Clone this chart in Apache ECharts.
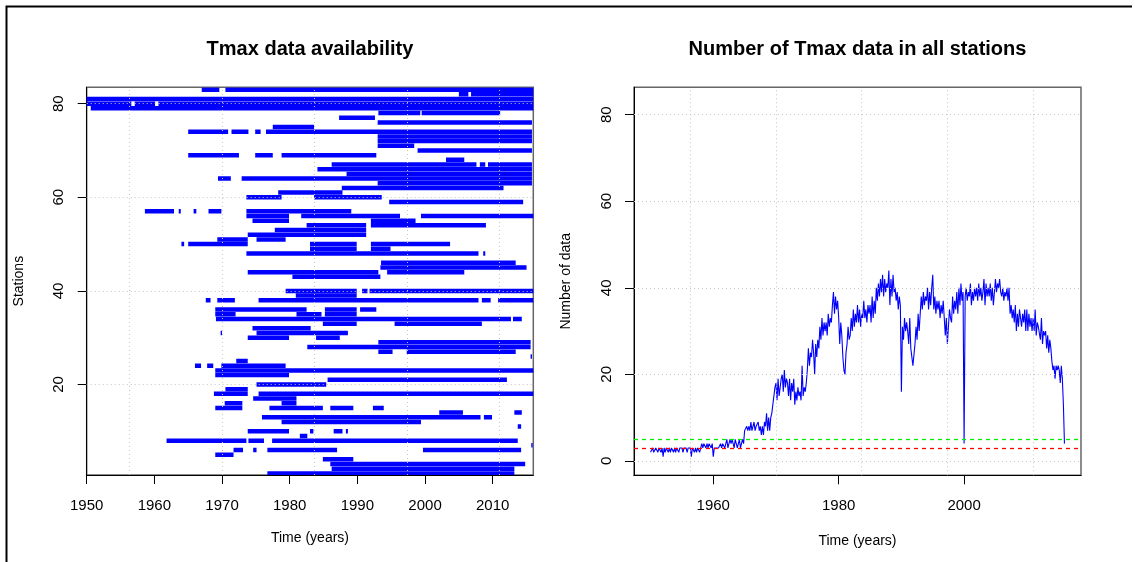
<!DOCTYPE html>
<html>
<head>
<meta charset="utf-8">
<title>Tmax data</title>
<script src="https://cdn.jsdelivr.net/npm/echarts/dist/echarts.min.js"></script>
<style>
    body{margin:0;background:#fff;}
    #main{width:1135px;height:562px;}
</style>
</head>
<body>
<div id="main"></div>
<script>
// left panel: [station, start year, end year] of each block of data
var availability = [
    [83, 1967.0, 1969.6], [83, 1970.5, 2016],
    [82, 2005.0, 2006.4], [82, 2006.8, 2016],
    [81, 1950, 2016],
    [80, 1950, 1956.6], [80, 1957.1, 1960.1], [80, 1960.6, 2016],
    [79, 1950.6, 2016],
    [78, 1993.1, 1999.3], [78, 1999.5, 2011.1],
    [77, 1987.3, 1992.6],
    [76, 1993.0, 2015.8],
    [75, 1977.5, 1983.6],
    [74, 1965.0, 1970.9], [74, 1971.4, 1973.9], [74, 1974.9, 1975.7], [74, 1976.5, 2015.8],
    [73, 1993.0, 2015.8],
    [72, 1993.0, 2015.8],
    [71, 1993.0, 1998.4],
    [70, 1998.9, 2015.8],
    [69, 1965.0, 1972.5], [69, 1974.9, 1977.5], [69, 1978.8, 1992.8],
    [68, 2003.1, 2005.8],
    [67, 1986.2, 2007.6], [67, 2008.1, 2008.9], [67, 2009.3, 2015.8],
    [66, 1984.1, 2015.8],
    [65, 1988.4, 2015.8],
    [64, 1969.4, 1971.3], [64, 1972.9, 2015.8],
    [63, 1993.0, 2015.8],
    [62, 1987.7, 2011.6],
    [61, 1978.3, 1987.8],
    [60, 1973.6, 1978.8], [60, 1983.6, 1993.6],
    [59, 1994.7, 2014.5],
    [57, 1958.6, 1962.9], [57, 1963.6, 1963.9], [57, 1965.8, 1966.2], [57, 1968.0, 1969.9], [57, 1973.6, 1989.1],
    [56, 1973.6, 1979.9], [56, 1981.7, 1996.3], [56, 1999.4, 2016],
    [55, 1974.5, 1979.9], [55, 1992.0, 1998.6],
    [54, 1982.5, 1991.3], [54, 1992.0, 2009.0],
    [53, 1977.8, 1991.3],
    [52, 1973.8, 1991.3],
    [51, 1969.3, 1973.8], [51, 1975.1, 1979.4],
    [50, 1964.0, 1964.4], [50, 1965.0, 1973.8], [50, 1983.0, 1989.9], [50, 1992.0, 2003.7],
    [49, 1983.0, 1989.9], [49, 1992.0, 1994.9],
    [48, 1973.6, 2007.9], [48, 2008.6, 2008.9],
    [46, 1993.5, 2013.4],
    [45, 1993.4, 2015.0],
    [44, 1973.8, 1993.1], [44, 1994.4, 2005.8],
    [43, 1980.4, 1993.4],
    [40, 1979.4, 1989.9], [40, 1990.7, 1991.5], [40, 1991.8, 2016],
    [39, 1980.9, 1989.9],
    [38, 1967.6, 1968.3], [38, 1969.3, 1971.9], [38, 1975.4, 2007.9], [38, 2008.4, 2009.7], [38, 2010.8, 2016],
    [36, 1969.0, 1982.5], [36, 1985.2, 1989.9], [36, 1990.4, 1992.8],
    [35, 1969.0, 1972.0], [35, 1981.0, 1984.7], [35, 1985.2, 1989.9],
    [34, 1969.1, 2012.7], [34, 2013.0, 2014.3],
    [33, 1984.9, 1989.9], [33, 1995.5, 2008.4],
    [32, 1974.5, 1983.1],
    [31, 1969.8, 1970.0], [31, 1975.1, 1988.6],
    [30, 1973.8, 1979.9], [30, 1983.9, 1987.4],
    [29, 1993.1, 2015.6],
    [28, 1982.6, 2015.6],
    [27, 1993.1, 1995.2], [27, 1997.3, 2013.4],
    [26, 2015.6, 2015.8],
    [25, 1972.1, 1973.8],
    [24, 1966.0, 1966.9], [24, 1967.8, 1968.7], [24, 1969.9, 1979.4],
    [23, 1969.0, 2016],
    [22, 1969.0, 1979.9],
    [21, 1985.6, 2012.1],
    [20, 1975.1, 1985.4],
    [19, 1970.5, 1973.8],
    [18, 1968.8, 1973.8], [18, 1975.4, 2016],
    [17, 1974.6, 1981.0],
    [16, 1970.4, 1973.0], [16, 1978.8, 1981.0],
    [15, 1969.0, 1973.0], [15, 1977.0, 1984.9], [15, 1986.0, 1989.4], [15, 1992.3, 1993.9],
    [14, 2002.1, 2005.6], [14, 2013.2, 2014.3],
    [13, 1975.9, 2008.2], [13, 2008.7, 2009.9],
    [12, 1978.8, 1999.4],
    [11, 2013.7, 2014.2],
    [10, 1973.8, 1979.9], [10, 1983.0, 1983.5], [10, 1986.5, 1987.8], [10, 1988.3, 1988.6],
    [9, 1981.5, 1982.6],
    [8, 1961.8, 1973.6], [8, 1973.9, 1976.2], [8, 1977.4, 2013.7],
    [7, 2015.7, 2015.9],
    [6, 1971.7, 1973.1], [6, 1974.6, 1975.1], [6, 1976.7, 1987.0], [6, 1999.7, 2014.2],
    [5, 1969.0, 1971.7],
    [4, 1984.9, 1989.4],
    [3, 1986.0, 2014.8],
    [2, 1986.2, 2013.2],
    [1, 1976.7, 2013.2]
];

// right panel: number of stations with data, six values per year from 1950
var countStart = 1950;
var countStep = 1 / 6;
var counts = [
    2,2,3,2,2,3, 3,2,3,3,2,3, 1,3,2,3,3,2, 3,2,3,3,2,3, 2,3,3,2,3,3,          // 1950-54
    3,2,3,3,3,2, 3,3,3,1,3,3, 2,3,2,3,3,2, 3,4,3,4,4,3, 4,3,4,4,3,4,          // 1955-59
    1,3,3,3,3,3, 3,4,3,4,4,3, 4,5,3,4,5,4, 5,4,3,5,4,3, 4,5,3,4,5,4,          // 1960-64
    7,7,8,7,8,7, 9,7,8,9,7,8, 8,9,7,8,6,8, 6,9,8,11,7,10, 7,10,11,13,15,17,   // 1965-69
    18,14,19,15,17,19, 20,16,21,17,19,18, 15,19,14,18,16,19, 13,16,14,17,15,16, 14,22,15,17,16,18,
    21,26,22,25,24,28, 25,20,27,24,28,26, 31,28,33,29,32,30, 32,29,34,31,33,32, 36,39,34,38,35,37,
    33,27,32,29,24,21, 20,25,27,31,28,29, 33,30,35,31,34,32, 36,32,35,31,34,33, 37,33,35,32,36,34,
    36,32,38,33,37,34, 40,37,41,38,42,39, 43,38,42,39,41,40, 44,36,42,38,43,39, 40,37,39,35,38,36,
    16,31,28,33,30,32, 30,27,33,26,24,22, 22,27,31,28,34,30, 30,38,35,39,36,38, 37,40,35,39,36,40,
    43,35,38,34,37,35, 37,33,36,34,37,33, 29,33,27,31,35,33, 32,38,34,37,35,39, 34,40,36,41,37,39,
    4,38,40,37,39,38, 41,36,39,37,40,38, 40,37,41,38,40,37, 39,42,36,41,38,40, 38,41,37,40,36,39,
    42,39,41,40,42,39, 38,40,37,39,38,40, 37,40,34,36,33,35, 32,36,30,34,31,35, 35,31,34,32,35,30,
    35,30,34,31,33,30, 33,30,35,29,32,31, 31,28,33,27,30,29, 30,26,29,25,28,26, 23,21,22,19,22,21,
    22,21,18,22,19,13, 4
];

var leftYearTicks = [1950, 1960, 1970, 1980, 1990, 2000, 2010];
var rightYearTicks = [1960, 1980, 2000];
var stationTicks = [20, 40, 60, 80];
var countTicks = [0, 20, 40, 60, 80];
var gridYears = [1956.3, 1970.0, 1983.65, 1997.3, 2010.95];
var minLevel = 3;
var okLevel = 5;

var fontName = 'Liberation Sans';

function plain(v){
    return String(v);
}
function xAxisOf(idx, min, max, ticks, gap){
    return {
        gridIndex: idx, type: 'value', min: min, max: max,
        axisLine: {show: true, onZero: false, lineStyle: {color: '#000', width: 1}},
        axisTick: {show: true, length: 9, customValues: ticks, lineStyle: {color: '#000'}},
        axisLabel: {customValues: ticks, formatter: plain, fontSize: 15, color: '#000', margin: 23, fontFamily: fontName},
        splitLine: {show: false},
        name: 'Time (years)', nameLocation: 'middle', nameGap: gap,
        nameTextStyle: {fontSize: 14, color: '#000', fontFamily: fontName}
    };
}
function yAxisOf(idx, min, max, ticks, name){
    return {
        gridIndex: idx, type: 'value', min: min, max: max,
        axisLine: {show: true, onZero: false, lineStyle: {color: '#000', width: 1}},
        axisTick: {show: true, length: 9, customValues: ticks, lineStyle: {color: '#000'}},
        axisLabel: {customValues: ticks, formatter: plain, rotate: 90, fontSize: 15, color: '#000', margin: 20, fontFamily: fontName},
        splitLine: {show: false},
        name: name, nameLocation: 'middle', nameGap: 61,
        nameTextStyle: {fontSize: 14, color: '#000', fontFamily: fontName}
    };
}
function gridLines(hValues){
    var d = [];
    for (var i = 0; i < gridYears.length; i++) d.push({xAxis: gridYears[i]});
    for (var j = 0; j < hValues.length; j++) d.push({yAxis: hValues[j]});
    return d;
}

function drawChart(){
    var chart = echarts.init(document.getElementById('main'));
    var countData = [];
    for (var i = 0; i < counts.length; i++) {
        countData.push([countStart + i * countStep, counts[i]]);
    }
    var option = {
        backgroundColor: '#fff',
        animation: false,
        title: [{
            text: 'Tmax data availability', left: 310, top: 39, textAlign: 'center', padding: 0,
            textStyle: {fontSize: 20, fontWeight: 'bold', color: '#000', fontFamily: fontName}
        }, {
            text: 'Number of Tmax data in all stations', left: 857.5, top: 39, textAlign: 'center', padding: 0,
            textStyle: {fontSize: 20, fontWeight: 'bold', color: '#000', fontFamily: fontName}
        }],
        grid: [
            {left: 86.7, top: 87.3, width: 446.6, height: 387.7, show: true, borderColor: '#666', borderWidth: 1.5},
            {left: 634, top: 87.3, width: 447, height: 388, show: true, borderColor: '#666', borderWidth: 1.5}
        ],
        xAxis: [
            xAxisOf(0, 1950, 2016, leftYearTicks, 56),
            xAxisOf(1, 1947.36, 2018.64, rightYearTicks, 59)
        ],
        yAxis: [
            yAxisOf(0, 0.66, 83.5, stationTicks, 'Stations'),
            yAxisOf(1, -3.32, 86.32, countTicks, 'Number of data')
        ],
        graphic: [{
            type: 'polyline',
            shape: {points: [[6.5, 562], [6.5, 6.5], [1132, 6.5]]},
            style: {stroke: '#000', lineWidth: 2, fill: null}
        }],
        series: [{
            type: 'custom',
            xAxisIndex: 0, yAxisIndex: 0,
            data: availability,
            encode: {x: [1, 2], y: 0},
            clip: true,
            z: 2,
            renderItem: function (params, api) {
                var s = api.value(0);
                var a = api.coord([api.value(1), s]);
                var b = api.coord([api.value(2), s]);
                var h = api.size([0, 1])[1] * 0.96;
                return {
                    type: 'rect',
                    shape: {x: a[0], y: a[1] - h / 2, width: b[0] - a[0], height: h},
                    style: {fill: '#0000ff'}
                };
            }
        }, {
            type: 'line',
            xAxisIndex: 0, yAxisIndex: 0,
            data: [],
            z: 5,
            markLine: {
                silent: true, symbol: ['none', 'none'], label: {show: false},
                lineStyle: {color: '#c4c4c4', width: 1, type: [1, 3]},
                data: gridLines(stationTicks)
            }
        }, {
            type: 'line',
            xAxisIndex: 1, yAxisIndex: 1,
            data: countData,
            showSymbol: false,
            symbol: 'none',
            z: 3,
            lineStyle: {color: '#0000ff', width: 1.1},
            itemStyle: {color: '#0000ff'}
        }, {
            type: 'line',
            xAxisIndex: 1, yAxisIndex: 1,
            data: [],
            z: 5,
            markLine: {
                silent: true, symbol: ['none', 'none'], label: {show: false},
                lineStyle: {color: '#c4c4c4', width: 1, type: [1, 3]},
                data: gridLines(countTicks)
            }
        }, {
            type: 'line',
            xAxisIndex: 1, yAxisIndex: 1,
            data: [],
            z: 6,
            markLine: {
                silent: true, symbol: ['none', 'none'], label: {show: false},
                lineStyle: {width: 1.3, type: [4, 4]},
                data: [
                    {yAxis: okLevel, lineStyle: {color: '#00ee00'}},
                    {yAxis: minLevel, lineStyle: {color: '#ff0000'}}
                ]
            }
        }]
    };
    chart.setOption(option);
}
drawChart();
</script>
</body>
</html>
